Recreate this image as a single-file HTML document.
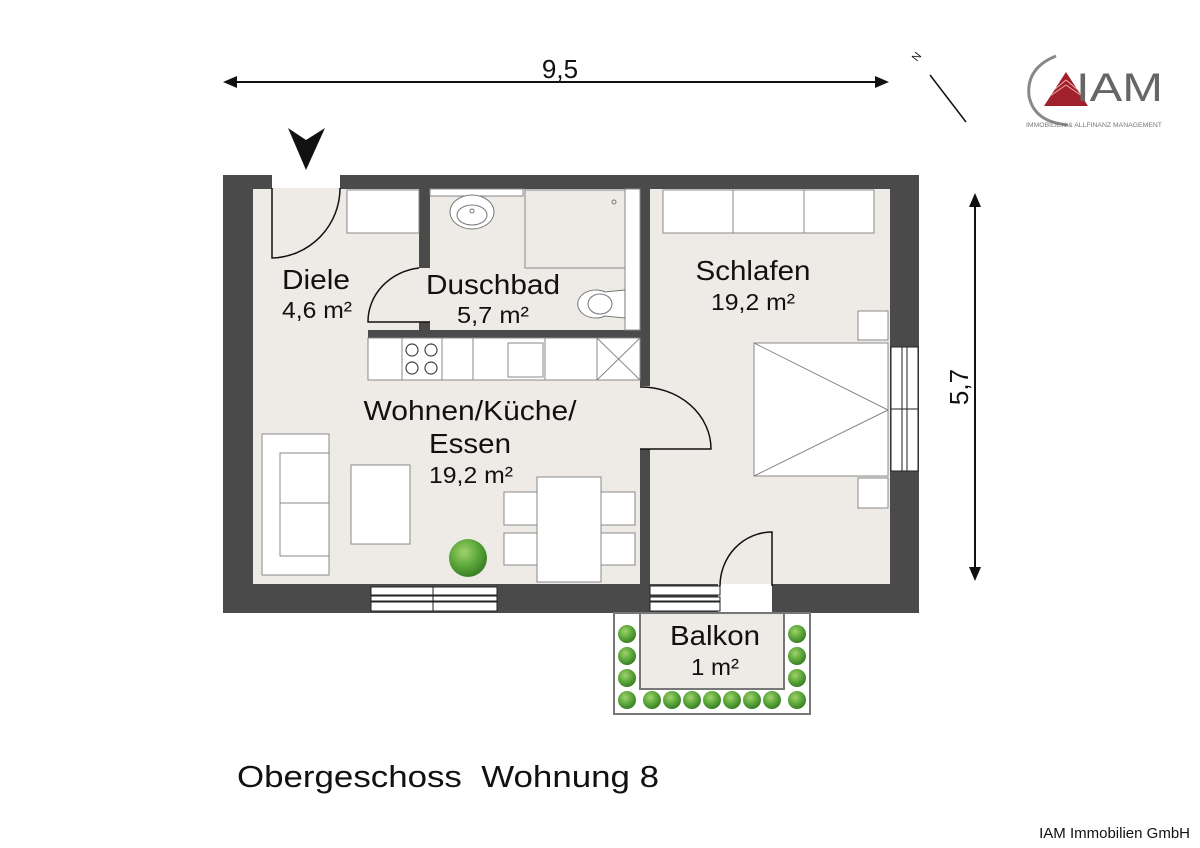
<!DOCTYPE html>
<html><head><meta charset="utf-8"><style>body{margin:0;background:#fff}svg{display:block}text{font-family:"Liberation Sans",sans-serif}</style></head><body>
<svg width="1200" height="848" viewBox="0 0 1200 848" xmlns="http://www.w3.org/2000/svg">
<defs><radialGradient id="pl" cx="40%" cy="35%" r="65%"><stop offset="0" stop-color="#9fd36a"/><stop offset="0.6" stop-color="#5aa53a"/><stop offset="1" stop-color="#3b7f25"/></radialGradient></defs>
<rect x="253" y="188" width="637" height="396" fill="#eeebe7"/>
<g fill="#4a4a4a">
<rect x="223" y="175" width="49" height="14"/><rect x="340" y="175" width="579" height="14"/>
<rect x="223" y="175" width="30" height="438"/>
<rect x="890" y="175" width="29" height="438"/>
<rect x="223" y="584" width="495" height="29"/><rect x="772" y="584" width="147" height="29"/>
<rect x="419" y="188" width="11" height="80"/><rect x="419" y="322" width="11" height="10"/>
<rect x="368" y="330" width="282" height="8"/>
<rect x="640" y="188" width="10" height="198"/><rect x="640" y="449" width="10" height="136"/>
</g>
<g fill="#fff" stroke="#888" stroke-width="1">
<rect x="347" y="190" width="72" height="43"/>
<rect x="430" y="189" width="93" height="7"/>
<rect x="525" y="190" width="100" height="78" fill="#eeebe7"/>
<rect x="625" y="189" width="15" height="141"/>
<rect x="368" y="338" width="272" height="42"/>
<rect x="402" y="338" width="40" height="42"/>
<rect x="473" y="338" width="72" height="42"/>
<rect x="508" y="343" width="35" height="34"/>
<rect x="597" y="338" width="43" height="42"/>
<rect x="262" y="434" width="67" height="141"/>
<rect x="280" y="453" width="49" height="50"/><rect x="280" y="503" width="49" height="53"/>
<rect x="351" y="465" width="59" height="79"/>
<rect x="504" y="492" width="33" height="33"/><rect x="504" y="533" width="33" height="32"/>
<rect x="601" y="492" width="34" height="33"/><rect x="601" y="533" width="34" height="32"/>
<rect x="537" y="477" width="64" height="105"/>
<rect x="663" y="190" width="211" height="43"/>
<line x1="733" y1="190" x2="733" y2="233"/><line x1="804" y1="190" x2="804" y2="233"/>
<rect x="858" y="311" width="30" height="29"/><rect x="858" y="478" width="30" height="30"/>
<rect x="754" y="343" width="134" height="133"/>
</g>
<g stroke="#888" fill="none" stroke-width="1">
<line x1="597" y1="338" x2="640" y2="380"/><line x1="640" y1="338" x2="597" y2="380"/>
<line x1="754" y1="343" x2="888" y2="410"/><line x1="754" y1="476" x2="888" y2="410"/>
</g>
<g fill="none" stroke="#444" stroke-width="1.2">
<circle cx="412" cy="350" r="6"/><circle cx="431" cy="350" r="6"/><circle cx="412" cy="368" r="6"/><circle cx="431" cy="368" r="6"/>
</g>
<ellipse cx="472" cy="212" rx="22" ry="17" fill="#fff" stroke="#777"/>
<ellipse cx="472" cy="215" rx="15" ry="10" fill="none" stroke="#777"/>
<circle cx="472" cy="211" r="2" fill="none" stroke="#777"/>
<circle cx="614" cy="202" r="2" fill="none" stroke="#777"/>
<path d="M625 290 L605 292 A18 14 0 1 0 605 316 L625 318 Z" fill="#fff" stroke="#777"/>
<ellipse cx="600" cy="304" rx="12" ry="10" fill="none" stroke="#777"/>
<g fill="#fff" stroke="#222" stroke-width="1">
<rect x="371" y="587" width="126" height="8"/><rect x="371" y="596" width="126" height="5"/><rect x="371" y="602" width="126" height="9"/>
<line x1="433" y1="587" x2="433" y2="611"/>
<rect x="650" y="586" width="70" height="9"/><rect x="650" y="597" width="70" height="4"/><rect x="650" y="602" width="70" height="9"/>
<rect x="891" y="347" width="27" height="124"/><rect x="902" y="347" width="5" height="124"/>
<line x1="891" y1="409" x2="918" y2="409"/>
</g>
<g fill="none" stroke="#111" stroke-width="1.5">
<path d="M272 188 L272 258 A70 70 0 0 0 340 188"/>
<path d="M430 322 L368 322 A58 54 0 0 1 419 268"/>
<path d="M640 387 A70 62 0 0 1 711 449 L640 449"/>
<path d="M772 586 L772 532 A52 54 0 0 0 720 586"/>
</g>
<rect x="614" y="613" width="196" height="101" fill="#fff" stroke="#777" stroke-width="2"/>
<rect x="640" y="613" width="144" height="76" fill="#eeebe7" stroke="#777" stroke-width="2"/>
<g fill="url(#pl)">
<circle cx="627" cy="634" r="9"/><circle cx="627" cy="656" r="9"/><circle cx="627" cy="678" r="9"/><circle cx="627" cy="700" r="9"/>
<circle cx="797" cy="634" r="9"/><circle cx="797" cy="656" r="9"/><circle cx="797" cy="678" r="9"/><circle cx="797" cy="700" r="9"/>
<circle cx="652" cy="700" r="9"/><circle cx="672" cy="700" r="9"/><circle cx="692" cy="700" r="9"/><circle cx="712" cy="700" r="9"/><circle cx="732" cy="700" r="9"/><circle cx="752" cy="700" r="9"/><circle cx="772" cy="700" r="9"/>
<circle cx="468" cy="558" r="19"/>
</g>
<g fill="#111" text-anchor="middle">
<text x="316" y="289" font-size="28" textLength="68" lengthAdjust="spacingAndGlyphs">Diele</text><text x="317" y="318" font-size="23" textLength="70" lengthAdjust="spacingAndGlyphs">4,6 m²</text>
<text x="493" y="294" font-size="28" textLength="134" lengthAdjust="spacingAndGlyphs">Duschbad</text><text x="493" y="323" font-size="23" textLength="72" lengthAdjust="spacingAndGlyphs">5,7 m²</text>
<text x="753" y="280" font-size="28" textLength="115" lengthAdjust="spacingAndGlyphs">Schlafen</text><text x="753" y="310" font-size="23" textLength="84" lengthAdjust="spacingAndGlyphs">19,2 m²</text>
<text x="470" y="420" font-size="28" textLength="213" lengthAdjust="spacingAndGlyphs">Wohnen/Küche/</text><text x="470" y="453" font-size="28" textLength="82" lengthAdjust="spacingAndGlyphs">Essen</text><text x="471" y="483" font-size="23" textLength="84" lengthAdjust="spacingAndGlyphs">19,2 m²</text>
<text x="715" y="645" font-size="28" textLength="90" lengthAdjust="spacingAndGlyphs">Balkon</text><text x="715" y="675" font-size="23" textLength="48" lengthAdjust="spacingAndGlyphs">1 m²</text>
<text x="560" y="78" font-size="26">9,5</text>
<text x="0" y="0" font-size="26" transform="translate(968,387) rotate(-90)">5,7</text>
</g>
<g stroke="#111" stroke-width="2"><line x1="232" y1="82" x2="880" y2="82"/><line x1="975" y1="202" x2="975" y2="572"/></g>
<g fill="#111">
<path d="M223 82 L237 76 L237 88 Z"/><path d="M889 82 L875 76 L875 88 Z"/>
<path d="M975 193 L969 207 L981 207 Z"/><path d="M975 581 L969 567 L981 567 Z"/>
<path d="M306 170 L288 128 L306 140 L325 128 Z"/>
</g>
<line x1="930" y1="75" x2="966" y2="122" stroke="#111" stroke-width="1.5"/>
<text x="0" y="0" font-size="11" fill="#111" transform="translate(917,62) rotate(-52)">N</text>
<path d="M1056 56 Q1026 68 1029 96 Q1034 122 1068 125" fill="none" stroke="#888" stroke-width="3"/>
<path d="M1044 106 L1066 72 L1088 106 Z" fill="#a0202c"/>
<g stroke="#e8b0b0" stroke-width="1"><line x1="1054" y1="90" x2="1066" y2="80"/><line x1="1050" y1="96" x2="1066" y2="85"/><line x1="1066" y1="80" x2="1078" y2="90"/><line x1="1066" y1="85" x2="1082" y2="96"/></g>
<text x="1076" y="101" font-size="40" fill="#666" font-family="Liberation Serif,serif" textLength="87" lengthAdjust="spacingAndGlyphs">IAM</text>
<text x="1026" y="127" font-size="6.5" fill="#777" font-family="Liberation Serif,serif" textLength="136" lengthAdjust="spacingAndGlyphs">IMMOBILIEN &amp; ALLFINANZ MANAGEMENT</text>
<text x="237" y="787" font-size="31" fill="#111" textLength="422" lengthAdjust="spacingAndGlyphs">Obergeschoss&#160;&#160;Wohnung 8</text>
<text x="1190" y="838" font-size="15" fill="#111" text-anchor="end">IAM Immobilien GmbH</text>
</svg>
</body></html>
